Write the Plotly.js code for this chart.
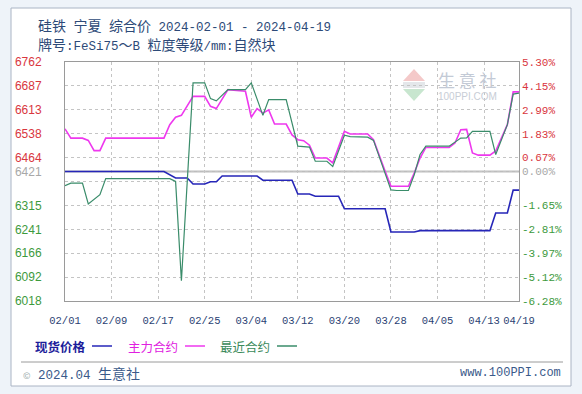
<!DOCTYPE html>
<html>
<head>
<meta charset="utf-8">
<script src="https://cdn.plot.ly/plotly-3.0.1.min.js"></script>
<style>
html,body{margin:0;padding:0;background:#eef3f9;}
#chart{width:582px;height:394px;}
</style>
</head>
<body>
<div id="chart"></div>
<script>
// ---- data ----
const baseValue = 6421;

const spotDates = ['2024-02-01','2024-02-18','2024-02-20','2024-02-22','2024-02-23','2024-02-25','2024-02-26','2024-02-27','2024-02-28','2024-03-05','2024-03-06','2024-03-11','2024-03-12','2024-03-14','2024-03-15','2024-03-19','2024-03-20','2024-03-27','2024-03-28','2024-04-01','2024-04-02','2024-04-14','2024-04-15','2024-04-17','2024-04-18','2024-04-19'];
const spotValues = [6421,6421,6401,6401,6382,6382,6389,6389,6407,6407,6394,6394,6351,6351,6344,6344,6305,6305,6233,6233,6237,6237,6292,6292,6363,6363];

const mainDates = ['2024-02-01','2024-02-02','2024-02-04','2024-02-05','2024-02-06','2024-02-07','2024-02-08','2024-02-18','2024-02-19','2024-02-20','2024-02-21','2024-02-23','2024-02-25','2024-02-26','2024-02-27','2024-02-29','2024-03-03','2024-03-04','2024-03-05','2024-03-06','2024-03-07','2024-03-08','2024-03-10','2024-03-11','2024-03-12','2024-03-13','2024-03-14','2024-03-15','2024-03-17','2024-03-18','2024-03-20','2024-03-21','2024-03-24','2024-03-25','2024-03-27','2024-03-28','2024-03-31','2024-04-01','2024-04-02','2024-04-03','2024-04-07','2024-04-08','2024-04-09','2024-04-10','2024-04-11','2024-04-12','2024-04-14','2024-04-15','2024-04-17','2024-04-18','2024-04-19'];
const mainValues = [6554,6525,6525,6518,6486,6486,6525,6525,6567,6590,6596,6655,6655,6624,6617,6676,6671,6590,6617,6603,6613,6569,6569,6535,6520,6517,6503,6463,6463,6448,6546,6538,6538,6520,6422,6375,6375,6416,6463,6496,6496,6510,6551,6552,6479,6472,6472,6485,6567,6669,6669];

const nearDates = ['2024-02-01','2024-02-02','2024-02-04','2024-02-05','2024-02-07','2024-02-08','2024-02-19','2024-02-20','2024-02-21','2024-02-23','2024-02-25','2024-02-26','2024-02-27','2024-02-29','2024-03-03','2024-03-04','2024-03-06','2024-03-07','2024-03-10','2024-03-12','2024-03-14','2024-03-15','2024-03-17','2024-03-18','2024-03-20','2024-03-21','2024-03-24','2024-03-25','2024-03-28','2024-03-29','2024-03-31','2024-04-01','2024-04-02','2024-04-03','2024-04-07','2024-04-09','2024-04-10','2024-04-11','2024-04-14','2024-04-15','2024-04-17','2024-04-18','2024-04-19'];
const nearValues = [6377,6385,6385,6320,6349,6399,6399,6390,6081,6697,6697,6648,6641,6676,6676,6697,6596,6645,6645,6500,6497,6453,6453,6437,6534,6530,6528,6518,6364,6362,6362,6411,6474,6500,6500,6525,6526,6546,6546,6474,6567,6662,6665];

const xTickDates = ['2024-02-01','2024-02-09','2024-02-17','2024-02-25','2024-03-04','2024-03-12','2024-03-20','2024-03-28','2024-04-05','2024-04-13','2024-04-19'];
const xTickLabels = ['02/01','02/09','02/17','02/25','03/04','03/12','03/20','03/28','04/05','04/13','04/19'];

const yTickValues = [6762,6687.6,6613.2,6538.8,6464.4,6421,6390,6315.6,6241.2,6166.8,6092.4,6018];
const yTickLabels = ['6762','6687','6613','6538','6464','6421','','6315','6241','6166','6092','6018'];
const pctTickLabels = ['5.30%','4.15%','2.99%','1.83%','0.67%','0.00%','','-1.65%','-2.81%','-3.97%','-5.12%','-6.28%'];

const seriesNames = ['现货价格','主力合约','最近合约'];

// ---- styling ----
const W = 582, H = 394;
const px = x => x / W;
const py = y => 1 - y / H;
const colBlue = '#2626b8', colMag = '#ee38ee', colGreen = '#3a8c6a';
const upCol = '#d9363e', baseCol = '#a8a8a8', downCol = '#3d9a3d';
const mono = s => '<span style="font-family:Liberation Mono;font-size:12.5px">' + s + '</span>';

function colorize(labels) {
  return labels.map((t, i) => {
    const v = yTickValues[i];
    const c = Math.abs(v - baseValue) < 0.5 ? baseCol : (v > baseValue ? upCol : downCol);
    return t ? '<span style="color:' + c + '">' + t + '</span>' : '';
  });
}

const traces = [
  {x: spotDates, y: spotValues, name: seriesNames[0], type: 'scatter', mode: 'lines',
   line: {color: colBlue, width: 1.6}, hoverinfo: 'skip'},
  {x: mainDates, y: mainValues, name: seriesNames[1], type: 'scatter', mode: 'lines',
   line: {color: colMag, width: 1.6}, hoverinfo: 'skip'},
  {x: nearDates, y: nearValues, name: seriesNames[2], type: 'scatter', mode: 'lines',
   line: {color: colGreen, width: 1.2}, hoverinfo: 'skip'},
  {x: [xTickDates[0]], y: [baseValue], yaxis: 'y2', type: 'scatter', mode: 'markers',
   marker: {opacity: 0}, showlegend: false, hoverinfo: 'skip'}
];

const yRange = [yTickValues[yTickValues.length - 1], yTickValues[0]];

const layout = {
  width: W, height: H,
  margin: {l: 0, r: 0, t: 0, b: 0},
  paper_bgcolor: '#eef3f9',
  plot_bgcolor: '#ffffff',
  showlegend: false,
  xaxis: {
    type: 'date',
    domain: [px(65), px(519)],
    range: [xTickDates[0], xTickDates[xTickDates.length - 1]],
    tickvals: xTickDates, ticktext: xTickLabels,
    showgrid: true, gridcolor: '#c4c4c4', griddash: 'dot', gridwidth: 1,
    showline: true, mirror: true, linecolor: '#9a9a9a', linewidth: 1,
    ticks: '', ticklabelstandoff: 9,
    tickfont: {family: 'Liberation Mono, monospace', size: 10.5, color: '#2b3f73'},
    zeroline: false, fixedrange: true
  },
  yaxis: {
    domain: [py(301), py(62)],
    range: yRange,
    tickvals: yTickValues, ticktext: colorize(yTickLabels),
    showgrid: true, gridcolor: '#c4c4c4', griddash: 'dot', gridwidth: 1,
    showline: true, mirror: true, linecolor: '#9a9a9a', linewidth: 1,
    ticks: '', ticklabelstandoff: 20,
    tickfont: {family: 'Liberation Sans, Arial, sans-serif', size: 12, color: '#888'},
    zeroline: false, fixedrange: true
  },
  yaxis2: {
    overlaying: 'y', side: 'right', anchor: 'x',
    range: yRange,
    tickvals: yTickValues, ticktext: colorize(pctTickLabels),
    showgrid: false, showline: false, ticks: '', ticklabelstandoff: 2,
    tickfont: {family: 'Liberation Mono, monospace', size: 11, color: '#888'},
    zeroline: false, fixedrange: true
  },
  shapes: [
    {type: 'rect', xref: 'paper', yref: 'paper', x0: px(11), x1: px(571), y0: py(386), y1: py(8),
     fillcolor: '#ffffff', line: {color: '#aab4c4', width: 1}, layer: 'below'},
    {type: 'line', xref: 'x domain', yref: 'y', x0: 0, x1: 1, y0: baseValue, y1: baseValue,
     line: {color: '#bdbdbd', width: 2}, layer: 'below'},
    {type: 'path', xref: 'paper', yref: 'paper', layer: 'below',
     path: 'M' + px(414) + ',' + py(69) + ' L' + px(425) + ',' + py(81) + ' L' + px(403) + ',' + py(81) + ' Z',
     fillcolor: '#f4c9c9', line: {width: 0}},
    {type: 'rect', xref: 'paper', yref: 'paper', layer: 'below',
     x0: px(403), x1: px(425), y0: py(88), y1: py(82), fillcolor: '#e4e7ea', line: {width: 0}},
    {type: 'path', xref: 'paper', yref: 'paper', layer: 'below',
     path: 'M' + px(403) + ',' + py(89) + ' L' + px(425) + ',' + py(89) + ' L' + px(414) + ',' + py(101) + ' Z',
     fillcolor: '#c8e6cf', line: {width: 0}},
    {type: 'line', xref: 'paper', yref: 'paper', x0: px(92), x1: px(112), y0: py(346), y1: py(346), line: {color: colBlue, width: 1.5}},
    {type: 'line', xref: 'paper', yref: 'paper', x0: px(185), x1: px(205), y0: py(346), y1: py(346), line: {color: colMag, width: 1.5}},
    {type: 'line', xref: 'paper', yref: 'paper', x0: px(277), x1: px(297), y0: py(346), y1: py(346), line: {color: colGreen, width: 1.5}},
    {type: 'line', xref: 'paper', yref: 'paper', x0: px(21), x1: px(563), y0: py(362), y1: py(362), line: {color: '#9a9a9a', width: 1}}
  ],
  annotations: [
    {xref: 'paper', yref: 'paper', x: px(36), y: py(25), xanchor: 'left', yanchor: 'middle', showarrow: false,
     text: '硅铁' + mono(' ') + '宁夏' + mono(' ') + '综合价' + mono(' 2024-02-01 - 2024-04-19'),
     font: {family: 'Noto Sans CJK SC', size: 14, color: '#2d4a78'}},
    {xref: 'paper', yref: 'paper', x: px(36), y: py(44), xanchor: 'left', yanchor: 'middle', showarrow: false,
     text: '牌号' + mono(':FeSi75') + '～' + mono('B ') + '粒度等级' + mono('/mm:') + '自然块',
     font: {family: 'Noto Sans CJK SC', size: 14, color: '#2d4a78'}},
    {xref: 'paper', yref: 'paper', x: px(467), y: py(79), xanchor: 'center', yanchor: 'middle', showarrow: false,
     text: '生 意 社', font: {family: 'Noto Sans CJK SC', size: 17, color: '#c3cad6'}},
    {xref: 'paper', yref: 'paper', x: px(467), y: py(96), xanchor: 'center', yanchor: 'middle', showarrow: false,
     text: '100PPI.COM', font: {family: 'Liberation Sans, sans-serif', size: 10, color: '#c8cdd6'}},
    {xref: 'paper', yref: 'paper', x: px(33), y: py(346), xanchor: 'left', yanchor: 'middle', showarrow: false,
     text: '<b>' + seriesNames[0] + '</b>', font: {family: 'Noto Sans CJK SC', size: 12.5, color: '#1c1c9a'}},
    {xref: 'paper', yref: 'paper', x: px(126), y: py(346), xanchor: 'left', yanchor: 'middle', showarrow: false,
     text: seriesNames[1], font: {family: 'Noto Sans CJK SC', size: 12.5, color: '#e020e0'}},
    {xref: 'paper', yref: 'paper', x: px(218), y: py(346), xanchor: 'left', yanchor: 'middle', showarrow: false,
     text: seriesNames[2], font: {family: 'Noto Sans CJK SC', size: 12.5, color: '#3a8a5a'}},
    {xref: 'paper', yref: 'paper', x: px(21), y: py(373), xanchor: 'left', yanchor: 'middle', showarrow: false,
     text: '<span style="font-size:9px;color:#9aa">©</span>' + mono(' 2024.04 ') + '生意社',
     font: {family: 'Noto Sans CJK SC', size: 14, color: '#3a5a8a'}},
    {xref: 'paper', yref: 'paper', x: px(563), y: py(373), xanchor: 'right', yanchor: 'middle', showarrow: false,
     text: 'www.100PPI.com', font: {family: 'Liberation Mono, monospace', size: 12, color: '#3a5a8a'}}
  ]
};

Plotly.newPlot('chart', traces, layout, {staticPlot: true, displayModeBar: false});
</script>
</body>
</html>
